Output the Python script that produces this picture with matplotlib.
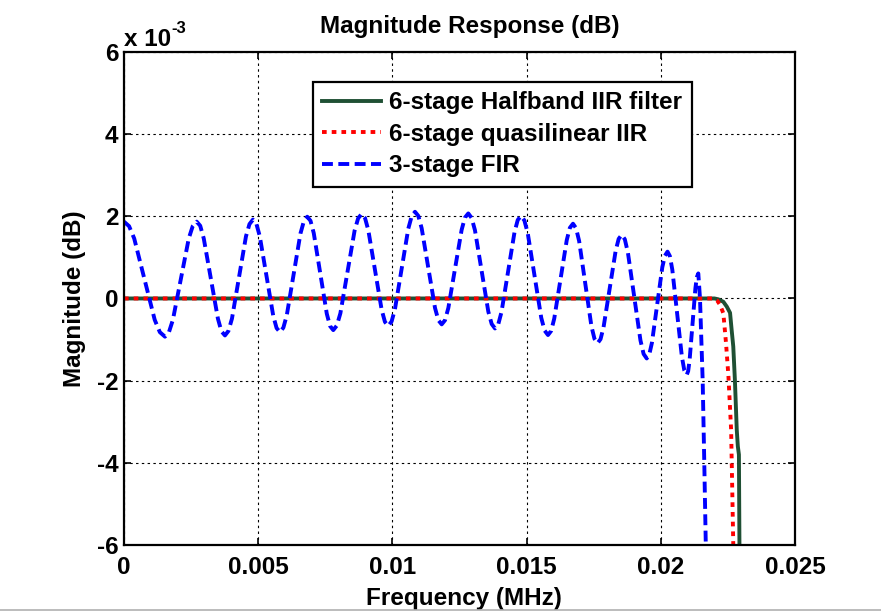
import matplotlib
matplotlib.use("Agg")
import matplotlib.pyplot as plt
from matplotlib.lines import Line2D

plt.rcParams['font.family'] = ['Liberation Sans', 'DejaVu Sans']
plt.rcParams['font.weight'] = 'bold'
FS = 17.5

# magnitudes are in units of 1e-3 dB
halfband_freq = [0, 0.02200, 0.02214, 0.02233, 0.02246, 0.02258, 0.02264, 0.02270, 0.02276,
                 0.02283, 0.02287, 0.02291, 0.02293, 0.02295]
halfband_mag = [0, 0, -0.02, -0.08, -0.20, -0.35, -0.77, -1.17, -1.98, -3.2, -3.6, -3.8, -6.0, -7.0]

quasi_freq = [0, 0.02195, 0.02210, 0.02221, 0.02233, 0.02243, 0.02252, 0.02262, 0.02270, 0.02275]
quasi_mag = [0, 0, -0.05, -0.16, -0.36, -1.09, -1.9, -3.2, -6.0, -7.0]

fir_freq = [0.000000, 0.000191, 0.000382, 0.000764, 0.001146, 0.001337,
            0.001528, 0.001676, 0.001823, 0.002119, 0.002414, 0.002561,
            0.002709, 0.002841, 0.002973, 0.003236, 0.003500, 0.003631,
            0.003763, 0.003893, 0.004024, 0.004285, 0.004545, 0.004676,
            0.004806, 0.004932, 0.005058, 0.005309, 0.005561, 0.005686,
            0.005812, 0.005939, 0.006066, 0.006321, 0.006575, 0.006702,
            0.006829, 0.006950, 0.007071, 0.007314, 0.007556, 0.007677,
            0.007798, 0.007930, 0.008063, 0.008327, 0.008592, 0.008724,
            0.008856, 0.008980, 0.009104, 0.009352, 0.009599, 0.009723,
            0.009847, 0.009971, 0.010096, 0.010345, 0.010593, 0.010718,
            0.010842, 0.010966, 0.011091, 0.011340, 0.011588, 0.011713,
            0.011837, 0.011961, 0.012085, 0.012333, 0.012580, 0.012704,
            0.012828, 0.012952, 0.013077, 0.013326, 0.013574, 0.013699,
            0.013823, 0.013944, 0.014065, 0.014307, 0.014549, 0.014670,
            0.014791, 0.014917, 0.015043, 0.015294, 0.015546, 0.015671,
            0.015797, 0.015914, 0.016030, 0.016263, 0.016496, 0.016612,
            0.016729, 0.016843, 0.016957, 0.017186, 0.017414, 0.017528,
            0.017642, 0.017755, 0.017867, 0.018093, 0.018318, 0.018430,
            0.018543, 0.018660, 0.018776, 0.019009, 0.019242, 0.019359,
            0.019475, 0.019572, 0.019669, 0.019863, 0.020056, 0.020153,
            0.020250, 0.020339, 0.020429, 0.020608, 0.020786, 0.020876,
            0.020965, 0.021019, 0.021073, 0.021181, 0.021289, 0.021343,
            0.021397, 0.021460, 0.021560, 0.021620, 0.021690]
fir_mag = [1.87, 1.76, 1.46, 0.47, -0.52, -0.82,
           -0.93, -0.82, -0.52, 0.47, 1.46, 1.76,
           1.87, 1.77, 1.46, 0.49, -0.49, -0.80,
           -0.90, -0.79, -0.49, 0.51, 1.51, 1.81,
           1.92, 1.82, 1.52, 0.55, -0.42, -0.72,
           -0.82, -0.71, -0.41, 0.59, 1.58, 1.88,
           1.99, 1.89, 1.59, 0.61, -0.37, -0.67,
           -0.77, -0.66, -0.36, 0.65, 1.65, 1.95,
           2.06, 1.96, 1.66, 0.70, -0.27, -0.57,
           -0.67, -0.56, -0.26, 0.72, 1.70, 2.00,
           2.11, 2.01, 1.71, 0.74, -0.23, -0.53,
           -0.63, -0.53, -0.23, 0.72, 1.67, 1.97,
           2.07, 1.96, 1.66, 0.67, -0.32, -0.62,
           -0.73, -0.63, -0.33, 0.64, 1.61, 1.91,
           2.01, 1.90, 1.59, 0.56, -0.47, -0.78,
           -0.89, -0.79, -0.49, 0.47, 1.42, 1.72,
           1.82, 1.71, 1.40, 0.37, -0.67, -0.98,
           -1.09, -0.99, -0.70, 0.23, 1.16, 1.45,
           1.55, 1.44, 1.11, 0.05, -1.02, -1.35,
           -1.46, -1.36, -1.08, -0.16, 0.76, 1.04,
           1.14, 1.03, 0.70, -0.36, -1.42, -1.75,
           -1.86, -1.77, -1.50, -0.63, 0.25, 0.52,
           0.61, 0.0, -2.0, -4.0, -6.5]

labels = ['6-stage Halfband IIR filter', '6-stage quasilinear IIR', '3-stage FIR']
xticks = [0, 0.005, 0.01, 0.015, 0.02, 0.025]
xtick_labels = ['0', '0.005', '0.01', '0.015', '0.02', '0.025']
yticks = [-6, -4, -2, 0, 2, 4, 6]

fig = plt.figure(figsize=(8.81, 6.12), dpi=100)
ax = fig.add_axes([0.1407, 0.1095, 0.7617, 0.8056])

ax.plot(halfband_freq, halfband_mag, color='#1f5034', lw=2.8, label=labels[0])
ax.plot(quasi_freq, quasi_mag, color='#ff0000', lw=2.8, linestyle=(0, (1.2, 1.3)), label=labels[1])
ax.plot(fir_freq, fir_mag, color='#0000ff', lw=2.8, linestyle=(0, (2.8, 1.4)), label=labels[2])

ax.set_xlim(0, 0.025)
ax.set_ylim(-6, 6)
ax.set_xticks(xticks)
ax.set_xticklabels(xtick_labels)
ax.set_yticks(yticks)
ax.set_yticklabels([str(t) for t in yticks])
ax.grid(True, color='black', linestyle=(0, (2.2, 3)), lw=0.8)
ax.tick_params(direction='in', length=5, width=1.2, top=True, right=True, labelsize=FS)
ax.tick_params(axis='x', pad=8)
ax.tick_params(axis='y', pad=4)
for sp in ax.spines.values():
    sp.set_linewidth(1.6)

ax.set_title('Magnitude Response (dB)', fontsize=FS, fontweight='bold', pad=14, x=0.515)
ax.set_xlabel('Frequency (MHz)', fontsize=FS, fontweight='bold', labelpad=1)
ax.xaxis.set_label_coords(0.507, -0.085)
ax.set_ylabel('Magnitude (dB)', fontsize=FS, fontweight='bold', labelpad=8)

# MATLAB-style exponent above the y axis
base = ax.text(0.0, 1.013, 'x 10', transform=ax.transAxes, fontsize=FS,
               fontweight='bold', ha='left', va='baseline')
ax.annotate('-3', xy=(1.0, 0.95), xycoords=base, fontsize=12, fontweight='bold',
            ha='left', va='center')

leg = ax.legend(loc='upper left', bbox_to_anchor=(0.281, 0.940), borderaxespad=0,
                fontsize=FS, fancybox=False, framealpha=1, handlelength=2.4,
                labelspacing=0.35, borderpad=0.4, handletextpad=0.35)
leg.get_frame().set_edgecolor('black')
leg.get_frame().set_linewidth(1.6)

# thin grey rule along the bottom edge
fig.add_artist(Line2D([0, 1], [0.003, 0.003], transform=fig.transFigure, color='#b0b0b0', lw=1.2))

fig.savefig('out.png', dpi=100)
